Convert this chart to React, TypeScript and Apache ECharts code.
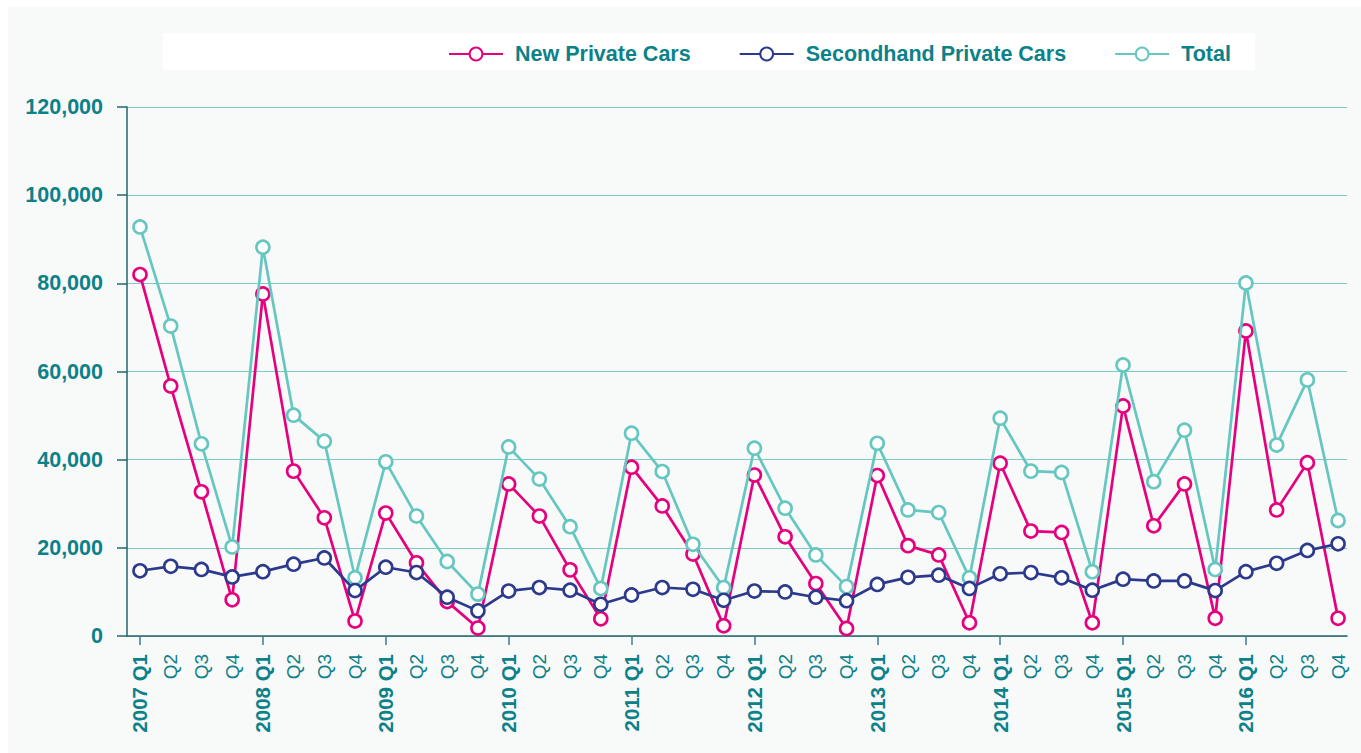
import React, { useEffect, useRef } from "react";
import * as echarts from "echarts";

const years = ["2007", "2008", "2009", "2010", "2011", "2012", "2013", "2014", "2015", "2016"];
const quarters = ["Q1", "Q2", "Q3", "Q4"];
const categories: string[] = years.flatMap((y) => quarters.map((q) => (q === "Q1" ? `${y} ${q}` : q)));

const newPrivateCars = [
  82000, 56700, 32700, 8200, 77600, 37400, 26800, 3400, 27900, 16600, 7800, 1800,
  34500, 27200, 15000, 3900, 38300, 29500, 18600, 2300, 36500, 22500, 11900, 1700,
  36400, 20500, 18400, 3000, 39200, 23800, 23500, 3000, 52200, 25000, 34500, 4000,
  69200, 28600, 39300, 4000,
];
const secondhandPrivateCars = [
  14800, 15800, 15100, 13400, 14600, 16300, 17700, 10300, 15600, 14400, 8800, 5700,
  10200, 11000, 10400, 7200, 9300, 11000, 10600, 8100, 10200, 10000, 8800, 8000,
  11700, 13300, 13800, 10800, 14100, 14400, 13200, 10400, 12900, 12500, 12500, 10300,
  14600, 16500, 19400, 20900,
];
const totalCars = [
  92800, 70300, 43600, 20200, 88200, 50100, 44200, 13200, 39500, 27200, 16900, 9500,
  42900, 35600, 24800, 10800, 46000, 37300, 20800, 11000, 42600, 29000, 18400, 11200,
  43700, 28600, 28000, 13200, 49400, 37400, 37100, 14600, 61500, 35000, 46700, 15100,
  80100, 43300, 58100, 26200,
];
const yTicks = [0, 20000, 40000, 60000, 80000, 100000, 120000];

const TEAL_TEXT = "#0b8189";
const PINK = "#e6007e";
const NAVY = "#2b3a8c";
const TEAL = "#66c6c0";
const FONT = "'Liberation Sans', Arial, Helvetica, sans-serif";

function makeSeries(name: string, values: number[], color: string, z: number) {
  return {
    name,
    type: "line",
    data: values.map((v, i) => [i, v]),
    symbol: "circle",
    symbolSize: 13,
    z,
    lineStyle: { color, width: 2.7 },
    itemStyle: { color: "#ffffff", borderColor: color, borderWidth: 2.6 },
    emphasis: { disabled: true },
  };
}

export default function App() {
  const ref = useRef<HTMLDivElement>(null);
  useEffect(() => {
    if (!ref.current) return;
    const chart = echarts.init(ref.current, undefined, { renderer: "svg" });
    chart.setOption({
      animation: false,
      backgroundColor: "#f8f9f9",
      textStyle: { fontFamily: FONT },
      graphic: [
        {
          type: "rect",
          z: -10,
          shape: { x: 155, y: 26, width: 1092, height: 37 },
          style: { fill: "#ffffff" },
          silent: true,
        },
      ],
      legend: {
        data: ["New Private Cars", "Secondhand Private Cars", "Total"],
        left: 440,
        top: 36,
        padding: 0,
        itemWidth: 54,
        itemHeight: 16,
        itemGap: 48,
        selectedMode: false,
        textStyle: {
          color: TEAL_TEXT,
          fontSize: 21.5,
          fontWeight: "bold",
          fontFamily: FONT,
          padding: [0, 0, 0, 7],
        },
      },
      grid: { left: 119, right: 14, top: 100, bottom: 117, containLabel: false },
      xAxis: {
        type: "value",
        min: -0.423,
        max: 39.29,
        axisLine: { show: true, onZero: false, lineStyle: { color: "#23676d", width: 1.5 } },
        splitLine: { show: false },
        axisTick: {
          show: true,
          customValues: years.map((_, i) => i * 4),
          length: 9,
          lineStyle: { color: "#3d7f86", width: 1.5 },
        },
        axisLabel: {
          show: true,
          customValues: categories.map((_, i) => i),
          rotate: 90,
          margin: 18,
          color: TEAL_TEXT,
          fontSize: 19,
          fontFamily: FONT,
          formatter: (v: number) => {
            const c = categories[Math.round(v)] ?? "";
            return c.includes(" ") ? `{b|${c}}` : c;
          },
          rich: {
            b: { fontWeight: "bold", fontSize: 20.5, color: TEAL_TEXT, fontFamily: FONT },
          },
        },
      },
      yAxis: {
        type: "value",
        min: yTicks[0],
        max: yTicks[yTicks.length - 1],
        interval: 20000,
        axisLine: { show: true, onZero: false, lineStyle: { color: "#23676d", width: 1.5 } },
        axisTick: { show: true, length: 10, lineStyle: { color: "#23676d", width: 1.5 } },
        splitLine: { show: true, lineStyle: { color: "#7fcac6", width: 1 } },
        axisLabel: {
          margin: 24,
          color: TEAL_TEXT,
          fontSize: 21.5,
          fontWeight: "bold",
          fontFamily: FONT,
          padding: [0, 0, 12, 0],
          formatter: (v: number) => v.toLocaleString("en-US"),
        },
      },
      series: [
        makeSeries("New Private Cars", newPrivateCars, PINK, 2),
        makeSeries("Total", totalCars, TEAL, 3),
        makeSeries("Secondhand Private Cars", secondhandPrivateCars, NAVY, 4),
      ],
    });
    return () => chart.dispose();
  }, []);
  return (
    <div
      ref={ref}
      style={{ position: "fixed", left: 8, top: 7, width: 1353, height: 746 }}
    />
  );
}
